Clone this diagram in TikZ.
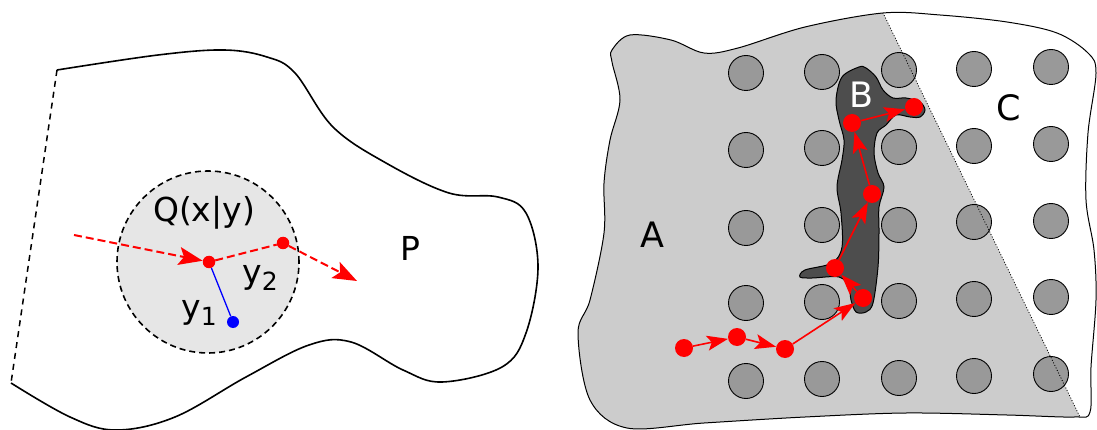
\documentclass[tikz,border=0pt]{standalone}
\usepackage{fontspec}
\setmainfont{DejaVu Sans}
\usetikzlibrary{arrows.meta}
\begin{document}
\begin{tikzpicture}[x=1pt,y=-1pt,
  outline/.style={line width=1.8pt, black},
  rdot/.style={circle, fill=red, inner sep=0pt, minimum size=12.5pt},
  bdot/.style={circle, fill=blue, inner sep=0pt, minimum size=12pt},
  walkdot/.style={circle, fill=red, inner sep=0pt, minimum size=18pt},
  obstacle/.style={circle, fill=obsgray, draw=black, line width=0.9pt, inner sep=0pt, minimum size=35pt},
  dashedred/.style={red, line width=2pt, dash pattern=on 8pt off 4pt},
  bigtip/.style={-{Stealth[length=24pt,width=18pt,inset=5pt]}},
  steptip/.style={-{Stealth[length=21pt,width=15pt,inset=4.5pt]}},
  lbl/.style={font=\fontsize{33}{38}\selectfont, inner sep=0pt},
  biglbl/.style={font=\fontsize{35}{40}\selectfont, inner sep=0pt}]
\definecolor{obsgray}{HTML}{999999}
\definecolor{regiongray}{HTML}{CCCCCC}
\definecolor{bloBgray}{HTML}{4D4D4D}
\definecolor{ballgray}{HTML}{E6E6E6}
\useasboundingbox (0,0) rectangle (1097,430);

% ---------------- left panel: domain P with ball Q(x|y) ----------------
\draw[line width=1.5pt, dash pattern=on 6pt off 5pt] (57,70) -- (11,383);
\draw[outline, line width=1.6pt] plot[smooth, tension=0.6] coordinates {
  (57,70) (158,55) (224,50) (267,57) (295,73) (333,127) (386,163) (449,193)
  (498,197) (526,213) (538,267) (526,333) (502,367) (442,382) (403,370)
  (351,342) (309,345) (246,377) (175,417) (116,430) (70,417) (11,383)};

\filldraw[fill=ballgray, draw=black, line width=1.6pt, dash pattern=on 6pt off 4pt]
  (208,262) circle (91pt);

\node[lbl] (q) at (204,213) {Q(x|y)};
\node[lbl] (p) at (410,248) {P};

\node[rdot] (q1) at (209,262) {};
\node[rdot] (q2) at (283,243) {};
\node[bdot] (bl) at (233,322) {};
\coordinate (s) at (74,235);
\coordinate (e) at (357,281);

\draw[blue, line width=1.3pt] (q1) -- (bl);
\draw[dashedred, bigtip] (s) -- (q1);
\draw[dashedred] (q1) -- (q2);
\draw[dashedred, bigtip] (q2) -- (e);

\node[lbl] (y2) at (260,278) {y\raisebox{-7pt}{\fontsize{25}{28}\selectfont 2}};
\node[lbl] (y1) at (199,313) {y\raisebox{-7pt}{\fontsize{25}{28}\selectfont 1}};

% ---------------- right panel: regions A, B, C with obstacles ----------------
\def\outershape{plot[smooth cycle, tension=0.55] coordinates {
  (612,50) (630,35) (671,40) (704,53) (738,48) (805,27) (883,13) (940,15)
  (1007,22) (1057,33) (1088,53) (1096,73) (1088,133) (1086,200) (1094,250)
  (1096,300) (1091,367) (1090,412) (1074,417) (1007,415) (906,413) (805,417)
  (704,423) (627,428) (590,400) (578,333) (590,300) (604,233) (604,183)
  (610,140) (620,100) (612,62)}}

\begin{scope}
  \clip \outershape;
  \fill[regiongray] (560,0) -- (876.7,0) -- (1086.3,430) -- (560,430) -- cycle;
\end{scope}

% obstacle grid
\foreach \i/\x/\a/\b/\c/\d/\e in {
  1/746/73/150/228/303/381,
  2/822/72/148/225/302/379,
  3/899/70/147/225/301/378,
  4/974/69/146/222/299/376,
  5/1051/67/144/221/297/374}{
  \node[obstacle] (o\i a) at (\x,\a) {};
  \node[obstacle] (o\i b) at (\x,\b) {};
  \node[obstacle] (o\i c) at (\x,\c) {};
  \node[obstacle] (o\i d) at (\x,\d) {};
  \node[obstacle] (o\i e) at (\x,\e) {};
}

\begin{scope}
  \clip \outershape;
  \draw[black, line width=0.8pt, dash pattern=on 1pt off 1.8pt] (876.7,0) -- (1086.3,430);
\end{scope}
\draw[black, line width=1pt] \outershape;

% region B
\filldraw[fill=bloBgray, draw=black, line width=1pt] plot[smooth cycle, tension=0.55] coordinates {
  (859,67) (842,77) (836,100) (839,120) (844,140) (842,160) (837,187) (841,213)
  (842,247) (832,263) (805,270) (800,277) (812,278) (839,277) (849,287) (851,300)
  (856,312) (866,312) (873,303) (878,267) (879,233) (879,207) (884,187) (878,173)
  (874,153) (877,133) (886,125) (896,115) (910,117) (920,117) (925,110) (920,102)
  (906,98) (893,98) (883,90) (876,77) (866,68)};

% walk
\node[walkdot] (w1) at (684,348) {};
\node[walkdot] (w2) at (737,337) {};
\node[walkdot] (w3) at (785,349) {};
\node[walkdot] (w4) at (863,298) {};
\node[walkdot] (w5) at (835,268) {};
\node[walkdot] (w6) at (872,194) {};
\node[walkdot] (w7) at (852,123) {};
\node[walkdot] (w8) at (914,107) {};
\foreach \u/\v in {w1/w2, w2/w3, w3/w4, w4/w5, w5/w6, w6/w7, w7/w8}
  \draw[red, line width=1.6pt, steptip] (\u) -- (\v);

\node[biglbl] (la) at (652,235) {A};
\node[biglbl, text=white] (lb) at (861,95) {B};
\node[biglbl] (lc) at (1009,108) {C};
\end{tikzpicture}
\end{document}
